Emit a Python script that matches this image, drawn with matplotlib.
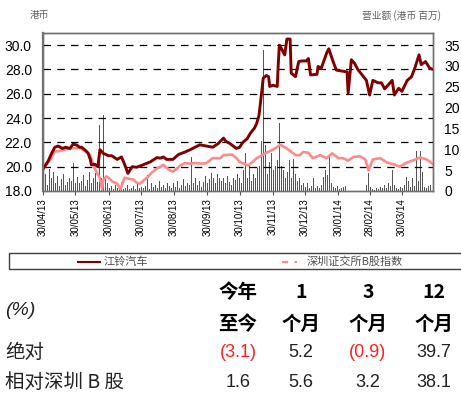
import numpy as np
import pandas as pd
import matplotlib
matplotlib.use('Agg')
import matplotlib.pyplot as plt
from matplotlib.lines import Line2D
from matplotlib.patches import Rectangle

CJK = ['Noto Sans CJK SC', 'DejaVu Sans']
plt.rcParams['font.family'] = ['Liberation Sans', 'DejaVu Sans']

## Data (days counted from 30/04/13)
start = pd.Timestamp('2013-04-30')
tick_dates = ['2013-04-30', '2013-05-30', '2013-06-30', '2013-07-30', '2013-08-30',
              '2013-09-30', '2013-10-30', '2013-11-30', '2013-12-30', '2014-01-30',
              '2014-02-28', '2014-03-30']
tick_labels = ['30/04/13', '30/05/13', '30/06/13', '30/07/13', '30/08/13', '30/09/13',
               '30/10/13', '30/11/13', '30/12/13', '30/01/14', '28/02/14', '30/03/14']

# 江铃汽车 share price (HKD)
price_day = [0, 5, 8, 11, 14, 18, 21, 25, 28, 31, 34, 36, 40, 42, 44, 45, 48, 51, 53, 56,
             61, 64, 69, 73, 75, 78, 79, 83, 87, 90, 93, 100, 106, 109, 112, 115, 121, 126,
             132, 137, 146, 152, 158, 163, 168, 170, 174, 180, 183, 186, 190, 193, 197, 199,
             201, 202, 204, 205, 208, 210, 211, 214, 218, 219, 220, 222, 224, 225, 227, 230,
             231, 235, 238, 241, 245, 247, 249, 255, 256, 259, 264, 266, 270, 273, 276, 283,
             284, 287, 290, 293, 297, 301, 304, 307, 312, 315, 318, 321, 325, 327, 331, 334,
             339, 343, 346, 350, 352, 356, 360, 363]
price = [19.8, 20.5, 21.1, 21.6, 21.7, 21.5, 21.6, 21.5, 21.85, 21.8, 21.6, 21.6, 21.3, 21.1,
         20.6, 20.15, 20.2, 20.0, 21.4, 21.1, 20.9, 20.9, 20.6, 20.8, 20.4, 19.7, 19.45, 20.0,
         19.95, 20.05, 20.15, 20.4, 20.75, 20.7, 20.8, 20.6, 20.6, 21.0, 21.2, 21.4, 21.8,
         21.7, 21.6, 21.9, 22.35, 22.1, 21.9, 21.5, 21.6, 22.0, 22.3, 22.75, 23.2, 23.6, 24.2,
         24.95, 26.5, 27.3, 27.5, 27.4, 26.6, 26.7, 26.6, 28.5, 30.0, 29.7, 29.35, 29.2, 30.5,
         30.5, 27.7, 27.4, 28.65, 28.7, 28.7, 28.9, 27.55, 27.6, 28.25, 28.1, 29.35, 29.7,
         28.65, 27.95, 27.9, 27.8, 26.05, 28.8, 28.5, 28.0, 27.55, 27.1, 25.9, 27.1, 26.9,
         26.9, 26.4, 26.7, 27.1, 25.9, 26.45, 26.2, 27.1, 27.4, 28.1, 29.2, 28.4, 28.65, 28.1,
         28.0]

# 深圳证交所B股指数 (rebased)
index_day = [0, 7, 11, 16, 22, 27, 34, 39, 44, 48, 53, 55, 56, 59, 62, 65, 69, 72, 76, 80,
             84, 87, 90, 97, 101, 106, 112, 118, 121, 128, 132, 137, 142, 149, 152, 158, 165,
             168, 176, 180, 183, 191, 199, 207, 214, 221, 227, 230, 235, 239, 242, 247, 251,
             258, 264, 269, 275, 279, 284, 289, 295, 300, 303, 307, 314, 320, 326, 332, 339,
             344, 351, 357, 363]
index_val = [19.8, 20.6, 21.25, 21.3, 21.45, 21.5, 21.55, 21.3, 20.95, 19.85, 19.05, 18.15,
             18.9, 19.2, 19.0, 18.75, 18.6, 18.15, 19.1, 19.0, 18.95, 18.7, 18.6, 19.1, 19.5,
             19.85, 20.15, 19.7, 19.6, 20.1, 20.3, 20.25, 20.3, 20.25, 20.3, 20.7, 20.7, 20.95,
             21.0, 20.7, 20.4, 20.1, 20.7, 21.1, 21.4, 21.8, 21.5, 21.3, 20.95, 20.95, 21.2,
             21.15, 20.7, 20.95, 20.7, 21.1, 20.7, 20.7, 20.5, 20.8, 20.85, 20.6, 19.7, 20.6,
             20.7, 20.35, 20.2, 20.0, 20.35, 20.5, 20.75, 20.6, 20.2]

# turnover (HKD mn)
turnover = [2.5, 4.0, 1.5, 5.2, 3.0, 4.6, 2.0, 3.5, 1.2, 2.8, 4.0, 1.5, 2.2, 3.0, 2.4,
            6.6, 2.0, 3.4, 1.8, 2.5, 3.8, 1.2, 2.6, 4.6, 2.0, 3.0, 4.4, 2.2, 15.8, 3.0,
            18.2, 3.5, 2.0, 0.8, 1.2, 0.5, 1.5, 0.6, 1.0, 2.2, 0.5, 0.8, 1.5, 0.4, 0.7,
            1.2, 0.5, 2.0, 0.8, 1.0, 0.6, 1.2, 3.8, 0.5, 1.8, 0.9, 1.4, 0.6, 2.5, 1.0,
            1.5, 0.8, 2.0, 1.2, 0.6, 1.8, 1.0, 2.4, 0.8, 1.5, 2.8, 1.2, 2.0, 1.4, 8.2,
            2.0, 3.0, 1.5, 2.5, 1.0, 2.2, 3.5, 1.8, 2.8, 4.3, 3.0, 2.0, 4.0, 3.2, 2.4,
            3.0, 2.0, 3.5, 2.2, 1.5, 3.0, 2.6, 4.0, 3.2, 2.0, 5.0, 9.0, 3.0, 6.5, 2.5,
            4.0, 3.0, 5.5, 6.0, 12.0, 33.8, 11.0, 4.0, 7.0, 9.0, 5.0, 6.0, 7.4, 16.2, 6.0,
            5.0, 3.0, 4.5, 7.5, 3.0, 7.6, 4.0, 2.5, 3.0, 1.5, 2.0, 1.0, 1.8, 0.8, 1.2,
            3.0, 0.8, 1.2, 0.6, 1.5, 3.4, 5.0, 3.8, 8.6, 2.0, 1.0, 0.8, 1.2, 0.5, 0.8,
            1.0, 1.2, 0.8, 21.0, 3.0, 11.6, 4.0, 2.0, 1.5, 0.8, 1.2, 0.6, 1.5, 4.2, 1.0,
            0.5, 0.3, 0.8, 0.4, 1.0, 0.6, 1.5, 0.8, 2.0, 1.2, 5.0, 1.5, 0.8, 0.5, 1.0,
            0.8, 1.5, 3.4, 2.5, 1.0, 3.0, 1.2, 9.7, 2.5, 9.7, 4.5, 1.0, 0.6, 1.2, 1.5]

# performance table
col_head1 = ['今年', '1', '3', '12']
col_head2 = ['至今', '个月', '个月', '个月']
row_names = ['绝对', '相对深圳 B 股']
abs_perf = [-3.1, 5.2, -0.9, 39.7]
rel_perf = [1.6, 5.6, 3.2, 38.1]

dark_red = '#800000'
pink = '#ff8a8a'

fig = plt.figure(figsize=(4.61, 3.96), dpi=100)
ax = fig.add_axes([0.0933, 0.5177, 0.8460, 0.3990])
ax2 = ax.twinx()

bar_day = np.linspace(0.5, 361, len(turnover))
ax2.bar(bar_day, turnover, width=0.9, color='#555555', linewidth=0)
ax2.set_ylim(0, 37.9)
ax2.set_yticks(range(0, 36, 5))

ax.set_zorder(ax2.get_zorder() + 1)
ax.patch.set_visible(False)
ax.plot(index_day, index_val, color=pink, lw=1.9)
ax.plot(price_day, price, color=dark_red, lw=2.1)
ax.set_ylim(18, 31)
ax.set_yticks(np.arange(18, 31, 2))
ax.set_yticklabels(['%.1f' % v for v in np.arange(18, 31, 2)])
for v in np.arange(20, 31, 2):
    ax.axhline(v, color='black', lw=0.9, dashes=(6, 5), zorder=0)

ticks = [(pd.Timestamp(d) - start).days for d in tick_dates]
ax.set_xlim(0, 363)
ax.set_xticks(ticks)
ax.set_xticklabels(tick_labels, rotation=90, fontsize=7)
ax.tick_params(axis='x', length=3, color='#555555', pad=2)
ax.tick_params(axis='y', length=0, labelsize=10, pad=8)
ax2.tick_params(axis='y', length=0, labelsize=10, pad=8)

for a in (ax, ax2):
    for s in a.spines.values():
        s.set_color('#707070')
        s.set_linewidth(1.0)
ax.spines['left'].set_linewidth(1.6)

fig.text(0.065, 0.962, '港币', fontsize=7, color='#606060', family=CJK, va='center')
fig.text(0.957, 0.962, '营业额 (港币 百万)', fontsize=7, color='#606060', family=CJK,
         va='center', ha='right')

# legend box
fig.add_artist(Rectangle((0.02, 0.321), 1.0, 0.040, transform=fig.transFigure,
                         fill=False, edgecolor='#404040', lw=1.0))
fig.add_artist(Line2D([0.169, 0.217], [0.339, 0.339], transform=fig.transFigure,
                      color=dark_red, lw=1.5))
fig.text(0.225, 0.339, '江铃汽车', fontsize=8, color='#505050', family=CJK, va='center')
fig.add_artist(Line2D([0.612, 0.645], [0.339, 0.339], transform=fig.transFigure,
                      color=pink, lw=1.5, dashes=(3, 3)))
fig.text(0.666, 0.339, '深圳证交所B股指数', fontsize=8, color='#505050', family=CJK,
         va='center')

# performance table
cols = [0.516, 0.653, 0.798, 0.941]
fig.text(0.011, 0.217, '(%)', fontsize=14, style='italic', color='#222222', va='center')
for x, h1, h2 in zip(cols, col_head1, col_head2):
    fig.text(x, 0.262, h1, fontsize=14, fontweight='bold', family=CJK, ha='center',
             va='center', color='black')
    fig.text(x, 0.180, h2, fontsize=14, fontweight='bold', family=CJK, ha='center',
             va='center', color='black')
fig.text(0.011, 0.109, row_names[0], fontsize=14, family=CJK, fontweight='light',
         va='center', color='#222222')
fig.text(0.011, 0.035, row_names[1], fontsize=14, family=CJK, fontweight='light',
         va='center', color='#222222')
for x, a, r in zip(cols, abs_perf, rel_perf):
    txt = '(%.1f)' % abs(a) if a < 0 else '%.1f' % a
    fig.text(x, 0.109, txt, fontsize=13, ha='center', va='center',
             color='#ff2020' if a < 0 else '#222222')
    fig.text(x, 0.035, '%.1f' % r, fontsize=13, ha='center', va='center', color='#222222')

fig.savefig('out.png', dpi=100)
